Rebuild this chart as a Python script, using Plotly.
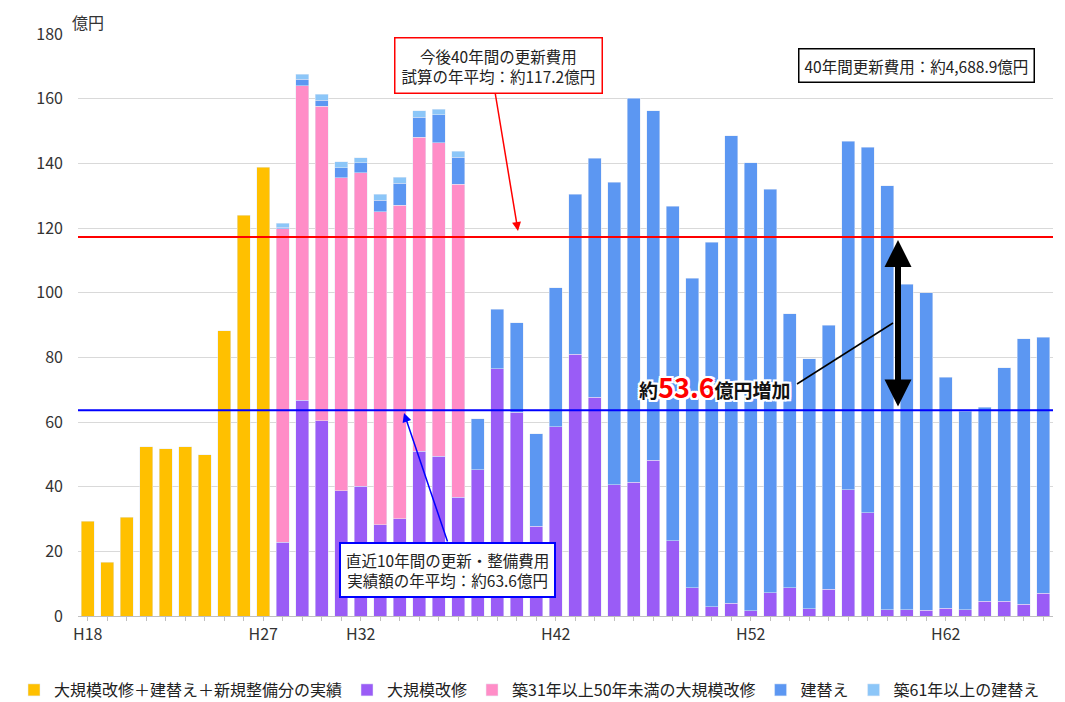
import plotly.graph_objects as go

years = [f"H{n}" for n in range(18, 68)]
tick_labels = ["H18", "H27", "H32", "H42", "H52", "H62"]

# 実績 (H18-H27)
actual = [29.3, 16.7, 30.6, 52.3, 51.8, 52.4, 49.9, 88.3, 124.0, 138.8]
# 大規模改修 (H28-H67)
major = [22.8, 66.7, 60.4, 38.7, 40.2, 28.3, 30.1, 51.0, 49.4, 36.7,
         45.3, 76.4, 63.0, 27.7, 58.6, 81.0, 67.7, 40.6, 41.3, 48.1,
         23.2, 8.8, 2.8, 3.9, 1.7, 7.2, 8.8, 2.2, 8.3, 39.0,
         32.0, 2.0, 2.0, 1.8, 2.4, 2.0, 4.5, 4.5, 3.6, 7.1]
# 築31年以上50年未満の大規模改修 (H28-H37)
major31 = [97.0, 97.3, 97.2, 96.8, 96.9, 96.7, 97.0, 97.0, 97.0, 96.9]
# 建替え (H28-H67)
rebuild = [0.4, 2.0, 1.9, 3.2, 3.1, 3.6, 6.8, 6.2, 8.7, 8.3,
           15.7, 18.5, 27.7, 28.7, 42.9, 49.5, 73.9, 93.5, 118.9, 108.2,
           103.5, 95.7, 112.8, 144.7, 138.5, 124.8, 84.7, 77.4, 81.6, 107.8,
           112.9, 131.0, 100.6, 98.2, 71.4, 61.3, 60.0, 72.3, 82.1, 79.1]
# 築61年以上の建替え (H28-H37)
rebuild61 = [1.3, 1.6, 1.8, 1.8, 1.5, 1.8, 1.8, 2.0, 1.6, 1.9]

avg_future = 117.2
avg_past = 63.6

n_act = len(actual)
n_fut = len(major)
pad_a = [None] * n_fut
pad_f = [None] * n_act

FONT = "Noto Sans CJK JP"
C_OR, C_PU, C_PK, C_BL, C_LB = "#FFC000", "#9A5CF6", "#FF8DC7", "#5C97F2", "#8CC6F8"

fig = go.Figure()
fig.add_bar(x=years, y=actual + pad_a, name="大規模改修＋建替え＋新規整備分の実績", marker_color=C_OR)
fig.add_bar(x=years, y=pad_f + major, name="大規模改修", marker_color=C_PU)
fig.add_bar(x=years, y=pad_f + major31 + [None] * (n_fut - len(major31)),
            name="築31年以上50年未満の大規模改修", marker_color=C_PK)
fig.add_bar(x=years, y=pad_f + rebuild, name="建替え", marker_color=C_BL)
fig.add_bar(x=years, y=pad_f + rebuild61 + [None] * (n_fut - len(rebuild61)),
            name="築61年以上の建替え", marker_color=C_LB)

W, H = 1065, 702
L, R, T, B = 78, 12, 34, 86
pw, ph = W - L - R, H - T - B


def px(x):
    return (x - L) / pw


def py(y):
    return (H - B - y) / ph


fig.add_hline(y=avg_future, line_color="#FF0000", line_width=2)
fig.add_hline(y=avg_past, line_color="#0000FF", line_width=2)

ann = []
ann.append(dict(xref="paper", yref="paper", x=px(70), y=py(22), text="億円", showarrow=False,
                xanchor="left", yanchor="middle", font=dict(size=16, color="#333333")))
ann.append(dict(xref="paper", yref="paper", x=px(498), y=py(65), xanchor="center", yanchor="middle",
                text="今後40年間の更新費用<br>試算の年平均：約117.2億円", showarrow=False,
                bordercolor="#FF0000", borderwidth=1.5, bgcolor="white", borderpad=6,
                font=dict(size=15.5, color="#222222")))
ann.append(dict(xref="paper", yref="paper", x=px(916), y=py(65), xanchor="center", yanchor="middle",
                text="40年間更新費用：約4,688.9億円", showarrow=False,
                bordercolor="#000000", borderwidth=1.5, bgcolor="white", borderpad=5,
                font=dict(size=15.5, color="#222222")))
ann.append(dict(xref="paper", yref="paper", x=px(447), y=py(570), xanchor="center", yanchor="middle",
                text="直近10年間の更新・整備費用<br>実績額の年平均：約63.6億円", showarrow=False,
                bordercolor="#0000FF", borderwidth=2, bgcolor="white", borderpad=5,
                font=dict(size=15.5, color="#222222")))
# arrows
ann.append(dict(xref="paper", yref="paper", x=px(518), y=py(231), text="", showarrow=True,
                ax=-23, ay=-139, arrowhead=2, arrowsize=1.2, arrowwidth=1.5, arrowcolor="#FF0000"))
ann.append(dict(xref="paper", yref="paper", x=px(404), y=py(413), text="", showarrow=True,
                ax=44, ay=130, arrowhead=2, arrowsize=1.2, arrowwidth=1.5, arrowcolor="#0000FF"))
ann.append(dict(xref="paper", yref="paper", x=px(898), y=py(240), text="", showarrow=True,
                ax=0, ay=168, arrowhead=2, arrowside="end+start", arrowsize=0.9, arrowwidth=6,
                arrowcolor="#000000"))
ann.append(dict(xref="paper", yref="paper", x=px(715), y=py(386), xanchor="center", yanchor="middle",
                text="<b>約<span style='color:#FF0000;font-size:27px'>53.6</span>億円増加</b>",
                showarrow=False, font=dict(size=19, color="#111111",
                                           shadow="2px 2px 0 white, -2px -2px 0 white, 2px -2px 0 white, -2px 2px 0 white, 0 2px 0 white, 0 -2px 0 white, 2px 0 0 white, -2px 0 0 white")))
fig.update_layout(annotations=ann)
fig.add_shape(type="line", xref="paper", yref="paper", x0=px(797), y0=py(384), x1=px(893), y1=py(323),
              line=dict(color="#000000", width=1.5))

fig.update_layout(
    width=W, height=H,
    margin=dict(l=L, r=R, t=T, b=B, autoexpand=False),
    barmode="stack", bargap=0.33,
    plot_bgcolor="white", paper_bgcolor="white",
    font=dict(family=FONT, size=14, color="#333333"),
    showlegend=True,
    legend=dict(orientation="h", x=px(14), y=py(690), xanchor="left", yanchor="middle",
                font=dict(size=16, color="#222222"), itemwidth=30, traceorder="normal",
                tracegroupgap=0),
)
fig.update_xaxes(type="category", tickmode="array", tickvals=years,
                 ticktext=[y if y in tick_labels else "" for y in years],
                 ticks="outside", ticklen=4, tickcolor="#bfbfbf", automargin=False,
                 showline=True, linecolor="#bfbfbf", showgrid=False,
                 tickfont=dict(size=16, color="#333333"), range=[-0.5, len(years) - 0.5])
fig.update_yaxes(range=[0, 180], dtick=20, showgrid=True, gridcolor="#d9d9d9", automargin=False,
                 zeroline=False, tickfont=dict(size=16, color="#333333"), ticklabelstandoff=14)

fig.write_html("out.html", config={"displayModeBar": False},
               post_script="document.body.style.margin='0px';document.body.style.overflow='hidden';")
